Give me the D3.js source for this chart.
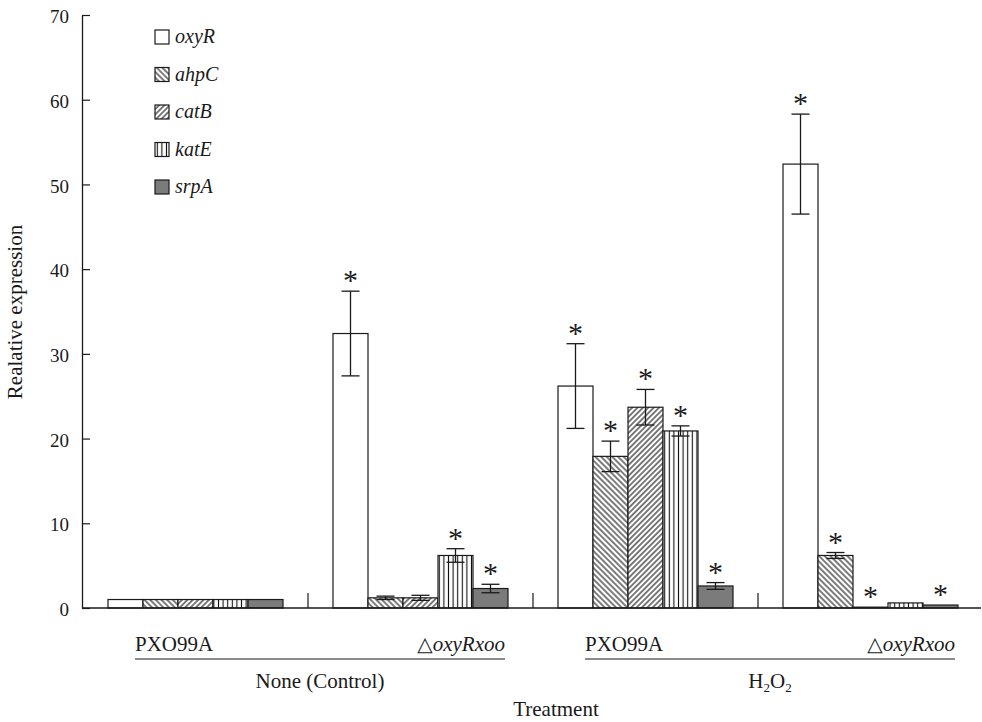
<!DOCTYPE html>
<html>
<head>
<meta charset="utf-8">
<script src="https://cdn.jsdelivr.net/npm/d3@7"></script>
<style>
  html, body { margin: 0; padding: 0; background: #fff; }
  svg { display: block; }
  svg text { font-family: "Liberation Serif", "Times New Roman", Times, "DejaVu Serif", serif; }
</style>
</head>
<body>
<svg id="chart" width="982" height="722"></svg>
<script>
// ---- data ----
const genes = ["oxyR", "ahpC", "catB", "katE", "srpA"];
const groups = ["None|PXO99A", "None|dOxyR", "H2O2|PXO99A", "H2O2|dOxyR"];
const oxyR    = [1.0, 32.4, 26.2, 52.4];
const oxyRErr = [0,   5.0,  5.0,  5.9];
const oxyRSig = [0,   1,    1,    1];
const ahpC    = [1.0, 1.2, 17.9, 6.2];
const ahpCErr = [0,   0.2, 1.8,  0.35];
const ahpCSig = [0,   0,   1,    1];
const catB    = [1.0, 1.2, 23.7, 0.1];
const catBErr = [0,   0.3, 2.1,  0];
const catBSig = [0,   0,   1,    1];
const katE    = [1.0, 6.2, 20.9, 0.6];
const katEErr = [0,   0.8, 0.6,  0];
const katESig = [0,   1,   1,    0];
const srpA    = [1.0, 2.3, 2.6,  0.35];
const srpAErr = [0,   0.5, 0.4,  0];
const srpASig = [0,   1,   1,    1];
const yTicks = [0, 10, 20, 30, 40, 50, 60, 70];
const strainLabels = ["PXO99A", "oxyRxoo"];
const treatmentLabels = ["None (Control)", "H2O2"];

const series = {
  oxyR: { v: oxyR, e: oxyRErr, s: oxyRSig },
  ahpC: { v: ahpC, e: ahpCErr, s: ahpCSig },
  catB: { v: catB, e: catBErr, s: catBSig },
  katE: { v: katE, e: katEErr, s: katESig },
  srpA: { v: srpA, e: srpAErr, s: srpASig }
};
const rows = [];
groups.forEach((g, gi) => genes.forEach(k => rows.push({
  group: g, gene: k, value: series[k].v[gi], err: series[k].e[gi], sig: series[k].s[gi]
})));

// ---- layout ----
const serif = '"Liberation Serif", "Times New Roman", Times, "DejaVu Serif", serif';
const svg = d3.select("#chart");
const ink = "#1a1a1a";
const axisX = 82, baseY = 608, topY = 15;

const y = d3.scaleLinear().domain([0, 70]).range([baseY, topY]);
const x0 = d3.scaleBand().domain(groups).range([83, 983]).paddingInner(2/9).paddingOuter(1/9);
const x1 = d3.scaleBand().domain(genes).range([0, x0.bandwidth()]).padding(0);

// ---- patterns ----
const defs = svg.append("defs");
function linePattern(id, spacing, angle, width) {
  const p = defs.append("pattern").attr("id", id)
    .attr("patternUnits", "userSpaceOnUse")
    .attr("width", spacing).attr("height", spacing)
    .attr("patternTransform", `rotate(${angle})`);
  p.append("rect").attr("width", spacing).attr("height", spacing).attr("fill", "#fff");
  p.append("line").attr("x1", spacing / 2).attr("x2", spacing / 2)
    .attr("y1", 0).attr("y2", spacing)
    .attr("stroke", "#111").attr("stroke-width", width);
}
linePattern("pat-ahpC", 4.0, -45, 1.1);
linePattern("pat-catB", 3.8, 45, 1.1);
linePattern("pat-katE", 4.6, 0, 1.1);

const fills = {
  oxyR: "#ffffff",
  ahpC: "url(#pat-ahpC)",
  catB: "url(#pat-catB)",
  katE: "url(#pat-katE)",
  srpA: "#7b7b7b"
};

// ---- bars ----
const g = svg.append("g");
g.selectAll("rect.bar").data(rows).join("rect")
  .attr("class", "bar")
  .attr("x", d => x0(d.group) + x1(d.gene))
  .attr("y", d => y(d.value))
  .attr("width", x1.bandwidth())
  .attr("height", d => baseY - y(d.value))
  .attr("fill", d => fills[d.gene])
  .attr("stroke", ink)
  .attr("stroke-width", 1.2);

// ---- error bars ----
const capW = 18;
const cx = d => x0(d.group) + x1(d.gene) + x1.bandwidth() / 2;
const eb = g.selectAll("g.err").data(rows.filter(d => d.err > 0)).join("g").attr("class", "err")
  .attr("stroke", ink).attr("stroke-width", 1.3);
eb.append("line").attr("x1", cx).attr("x2", cx)
  .attr("y1", d => y(d.value + d.err)).attr("y2", d => y(d.value - d.err));
eb.append("line").attr("x1", d => cx(d) - capW / 2).attr("x2", d => cx(d) + capW / 2)
  .attr("y1", d => y(d.value + d.err)).attr("y2", d => y(d.value + d.err));
eb.append("line").attr("x1", d => cx(d) - capW / 2).attr("x2", d => cx(d) + capW / 2)
  .attr("y1", d => y(d.value - d.err)).attr("y2", d => y(d.value - d.err));

// ---- significance stars ----
g.selectAll("text.star").data(rows.filter(d => d.sig)).join("text")
  .attr("class", "star")
  .attr("x", cx)
  .attr("y", d => y(d.value + d.err) - 1)
  .attr("text-anchor", "middle")
  .attr("font-family", serif)
  .attr("font-size", 30)
  .attr("fill", ink)
  .text("*");

// ---- y axis ----
const yAxis = d3.axisLeft(y).tickValues(yTicks).tickSizeInner(-8).tickSizeOuter(0).tickPadding(13);
const ya = svg.append("g").attr("transform", `translate(${axisX},0)`).call(yAxis)
  .attr("font-family", serif).attr("font-size", 19);
ya.select(".domain").attr("stroke", ink).attr("stroke-width", 1.3);
ya.selectAll(".tick line").attr("stroke", ink).attr("stroke-width", 1.2);
ya.selectAll(".tick text").attr("fill", ink).attr("dy", "0.4em");

// ---- x axis baseline + separators ----
svg.append("line").attr("x1", axisX).attr("x2", 981).attr("y1", baseY).attr("y2", baseY)
  .attr("stroke", ink).attr("stroke-width", 1.3);
const step = x0.step();
svg.selectAll("line.sep").data(groups.slice(0, -1)).join("line")
  .attr("class", "sep")
  .attr("x1", d => x0(d) + x0.bandwidth() + (step - x0.bandwidth()) / 2)
  .attr("x2", d => x0(d) + x0.bandwidth() + (step - x0.bandwidth()) / 2)
  .attr("y1", baseY - 15).attr("y2", baseY)
  .attr("stroke", ink).attr("stroke-width", 1.2);

// ---- bottom labels ----
treatmentLabels.forEach((t, ti) => {
  const gA = groups[ti * 2], gB = groups[ti * 2 + 1];
  const xa = x0(gA) + 27, xb = x0(gB) + x0.bandwidth() - 3;
  svg.append("text").attr("x", xa).attr("y", 651).attr("font-size", 21).attr("fill", ink)
    .attr("font-family", serif).text(strainLabels[0]);
  const t2 = svg.append("text").attr("x", xb).attr("y", 651).attr("font-size", 21)
    .attr("font-family", serif).attr("text-anchor", "end").attr("fill", ink);
  t2.append("tspan").attr("font-size", 20).text("\u25B3");
  t2.append("tspan").attr("font-style", "italic").text(strainLabels[1]);
  svg.append("line").attr("x1", xa).attr("x2", xb).attr("y1", 659).attr("y2", 659)
    .attr("stroke", ink).attr("stroke-width", 1.2);
  const tl = svg.append("text").attr("x", (xa + xb) / 2).attr("y", 688).attr("font-size", 21)
    .attr("font-family", serif).attr("text-anchor", "middle").attr("fill", ink);
  if (t === "H2O2") {
    tl.append("tspan").text("H");
    tl.append("tspan").attr("font-size", 13).attr("dy", 4).text("2");
    tl.append("tspan").attr("dy", -4).text("O");
    tl.append("tspan").attr("font-size", 13).attr("dy", 4).text("2");
  } else {
    tl.text(t);
  }
});

svg.append("text").attr("x", 556).attr("y", 716).attr("font-size", 21)
  .attr("font-family", serif).attr("text-anchor", "middle").attr("fill", ink).text("Treatment");

svg.append("text").attr("transform", "translate(22,312) rotate(-90)")
  .attr("font-family", serif).attr("font-size", 21).attr("text-anchor", "middle").attr("fill", ink)
  .text("Realative expression");

// ---- legend ----
const leg = svg.append("g").selectAll("g").data(genes).join("g")
  .attr("transform", (d, i) => `translate(155, ${37 + i * 37.5})`);
leg.append("rect").attr("x", 0).attr("y", -7).attr("width", 14).attr("height", 14)
  .attr("fill", d => fills[d]).attr("stroke", ink).attr("stroke-width", 1.2);
leg.append("text").attr("x", 20).attr("y", 6).attr("font-size", 20).attr("font-style", "italic")
  .attr("font-family", serif).attr("fill", ink).text(d => d);
</script>
</body>
</html>
